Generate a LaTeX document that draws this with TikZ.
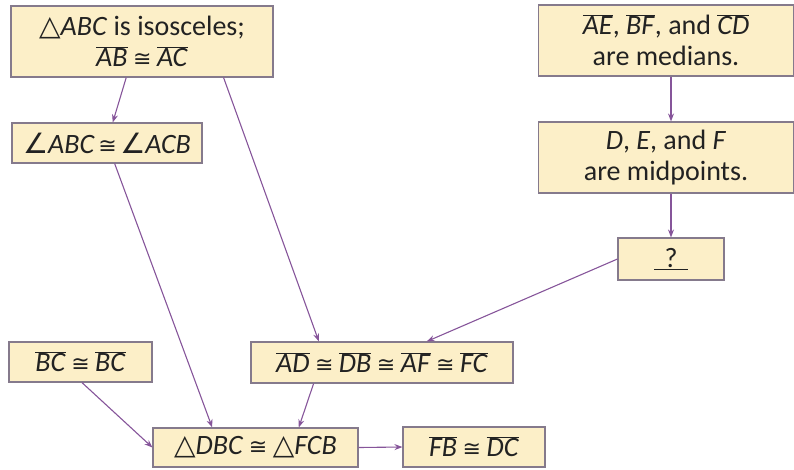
\documentclass[tikz,border=0pt]{standalone}
\usepackage{fontspec}
\setmainfont{Carlito}
\newfontfamily\symfont{DejaVu Sans}
\usetikzlibrary{arrows.meta,calc}
\definecolor{boxfill}{HTML}{FCEFC8}
\definecolor{boxdraw}{HTML}{857A8C}
\definecolor{arr}{HTML}{86559A}
\definecolor{txt}{HTML}{222222}
\newcommand\seg[1]{$\overline{\mbox{\itshape #1\/}}$}
\newcommand\tri{{\symfont\char"25B3}}
\newcommand\ang{{\symfont\char"2220}}
\newcommand\cg{\hspace{5.5pt}{\fontsize{22}{22}\symfont\char"2245}\hspace{5.5pt}}
\begin{document}
\begin{tikzpicture}[x=1pt,y=-1pt,
  fbox/.style={draw=boxdraw, fill=boxfill, line width=1.1pt, inner sep=0pt,
    align=center, text=txt, font=\fontsize{28}{31}\selectfont},
  link/.style={draw=arr, line width=1.1pt, -{Stealth[length=8pt,width=6pt]}}]
\useasboundingbox (0,0) rectangle (794,469);
\node[fbox, minimum width=262, minimum height=71] (iso) at (142,41.5)
  {\tri\textit{ABC} is isosceles;\\\seg{AB}\cg\seg{AC}};
\node[fbox, minimum width=255, minimum height=71] (med) at (666,40.5)
  {\seg{AE}, \seg{BF}, and \seg{CD}\\are medians.};
\node[fbox, minimum width=255, minimum height=71] (mid) at (666,157.5)
  {\textit{D}, \textit{E}, and \textit{F}\\are midpoints.};
\node[fbox, minimum width=106, minimum height=42] (q) at (671,259)
  {\underline{\makebox[34pt]{?}}};
\node[fbox, minimum width=190, minimum height=40] (ang) at (107,143)
  {\ang\textit{ABC}\hspace{-2pt}\cg\hspace{-2pt}\ang\textit{ACB}};
\node[fbox, minimum width=143, minimum height=40] (bc) at (80.5,362)
  {\seg{BC}\cg\seg{BC}};
\node[fbox, minimum width=262, minimum height=41] (ad) at (382,362.5)
  {\seg{AD}\cg\seg{DB}\cg\seg{AF}\cg\seg{FC}};
\node[fbox, minimum width=205, minimum height=39] (dbc) at (255.5,447.5)
  {\tri\textit{DBC}\cg\tri\textit{FCB}};
\node[fbox, minimum width=142, minimum height=40] (fb) at (474,447)
  {\seg{FB}\cg\seg{DC}};
\draw[link] (med.south -| q) -- (mid.north -| q);
\draw[link] (mid.south -| q) -- (q.north);
\draw[link] ($(iso.south west)!0.44!(iso.south east)$) -- ($(ang.north west)!0.53!(ang.north east)$);
\draw[link] ($(iso.south west)!0.81!(iso.south east)$) -- ($(ad.north west)!0.26!(ad.north east)$);
\draw[link] (q.west) -- ($(ad.north west)!0.67!(ad.north east)$);
\draw[link] ($(ang.south west)!0.54!(ang.south east)$) -- ($(dbc.north west)!0.29!(dbc.north east)$);
\draw[link] ($(bc.south west)!0.51!(bc.south east)$) -- (dbc.west);
\draw[link] ($(ad.south west)!0.24!(ad.south east)$) -- ($(dbc.north west)!0.71!(dbc.north east)$);
\draw[link] (dbc.east) -- (fb.west);
\end{tikzpicture}
\end{document}
